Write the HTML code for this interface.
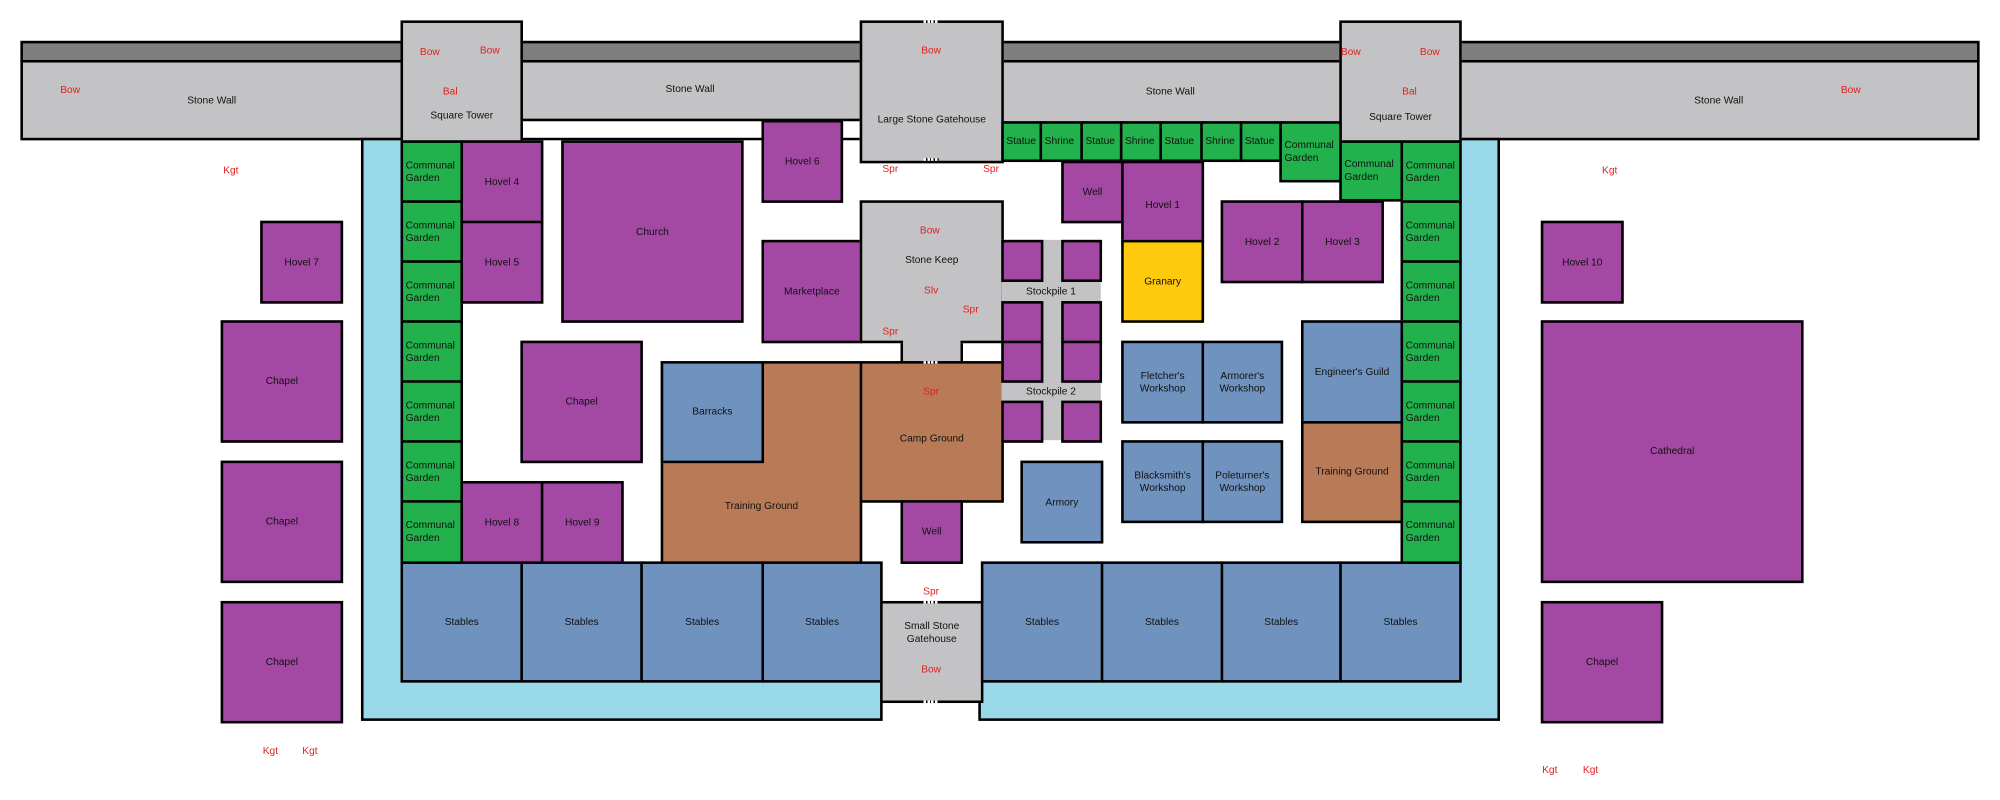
<!DOCTYPE html>
<html><head><meta charset="utf-8"><style>
html,body{margin:0;padding:0;background:#fff;width:2000px;height:800px;overflow:hidden}
#w{position:absolute;left:0;top:0;width:1568px;height:627px;transform:scale(1.27551,1.27592);transform-origin:0 0;font-family:"Liberation Sans",sans-serif}
.b{position:absolute;box-sizing:border-box;border:2px solid #000;display:flex;align-items:center;justify-content:center;text-align:center;font-size:8px;line-height:10px;color:#111}
.g{background:#c3c3c5}.d{background:#7f7f7f}.p{background:#a349a4}.gr{background:#22b14c;justify-content:flex-start;padding-left:2px;text-align:left}.bl{background:#7092be}.br{background:#b97a57}.y{background:#ffc90e}.wa{background:#99d9ea}
.r{position:absolute;color:#e02020;font-size:8px;line-height:8px;transform:translateX(-50%)}
.n{border:none}
.dt{position:absolute;height:2px;width:12px;background:repeating-linear-gradient(90deg,#fff 0 2px,#000 2px 3px)}
</style></head><body><div id="w">
<div class="b d" style="left:16px;top:32px;width:1536px;height:17px"></div>
<div class="b g" style="left:16px;top:47px;width:300px;height:63px">Stone Wall</div>
<div class="b g" style="left:406px;top:47px;width:270px;height:48px;align-items:flex-start;padding-top:16px">Stone Wall</div>
<div class="b g" style="left:783px;top:47px;width:269px;height:50px;align-items:flex-start;padding-top:18px">Stone Wall</div>
<div class="b g" style="left:1143px;top:47px;width:409px;height:63px">Stone Wall</div>
<div class="b wa" style="left:283px;top:108px;width:409px;height:457px"></div>
<div class="b wa" style="left:767px;top:108px;width:409px;height:457px"></div>
<div style="position:absolute;left:314px;top:110px;width:831px;height:423px;background:#fff"></div>
<div class="b g" style="left:314px;top:16px;width:96px;height:96px;align-items:flex-start;padding-top:68px">Square Tower</div>
<div class="b g" style="left:674px;top:16px;width:113px;height:112px;align-items:flex-start;padding-top:71px">Large Stone Gatehouse</div>
<div class="dt" style="left:724px;top:16px"></div><div class="dt" style="left:724px;top:124px"></div>
<div class="b g" style="left:1050px;top:16px;width:96px;height:96px;align-items:flex-start;padding-top:69px">Square Tower</div>
<div class="b gr" style="left:785px;top:95px;width:32px;height:32px">Statue</div>
<div class="b gr" style="left:815px;top:95px;width:34px;height:32px">Shrine</div>
<div class="b gr" style="left:847px;top:95px;width:33px;height:32px">Statue</div>
<div class="b gr" style="left:878px;top:95px;width:33px;height:32px">Shrine</div>
<div class="b gr" style="left:909px;top:95px;width:34px;height:32px">Statue</div>
<div class="b gr" style="left:941px;top:95px;width:33px;height:32px">Shrine</div>
<div class="b gr" style="left:972px;top:95px;width:33px;height:32px">Statue</div>
<div class="b gr" style="left:1003px;top:95px;width:49px;height:48px">Communal Garden</div>
<div class="b gr" style="left:1050px;top:110px;width:50px;height:48px">Communal Garden</div>
<div class="b gr" style="left:314px;top:110px;width:49px;height:49px">Communal Garden</div>
<div class="b gr" style="left:314px;top:157px;width:49px;height:49px">Communal Garden</div>
<div class="b gr" style="left:314px;top:204px;width:49px;height:49px">Communal Garden</div>
<div class="b gr" style="left:314px;top:251px;width:49px;height:49px">Communal Garden</div>
<div class="b gr" style="left:314px;top:298px;width:49px;height:49px">Communal Garden</div>
<div class="b gr" style="left:314px;top:345px;width:49px;height:49px">Communal Garden</div>
<div class="b gr" style="left:314px;top:392px;width:49px;height:50px">Communal Garden</div>
<div class="b gr" style="left:1098px;top:110px;width:48px;height:49px">Communal Garden</div>
<div class="b gr" style="left:1098px;top:157px;width:48px;height:49px">Communal Garden</div>
<div class="b gr" style="left:1098px;top:204px;width:48px;height:49px">Communal Garden</div>
<div class="b gr" style="left:1098px;top:251px;width:48px;height:49px">Communal Garden</div>
<div class="b gr" style="left:1098px;top:298px;width:48px;height:49px">Communal Garden</div>
<div class="b gr" style="left:1098px;top:345px;width:48px;height:49px">Communal Garden</div>
<div class="b gr" style="left:1098px;top:392px;width:48px;height:50px">Communal Garden</div>
<div class="b p" style="left:361px;top:110px;width:65px;height:65px">Hovel 4</div>
<div class="b p" style="left:361px;top:173px;width:65px;height:65px">Hovel 5</div>
<div class="b p" style="left:440px;top:110px;width:143px;height:143px">Church</div>
<div class="b p" style="left:597px;top:94px;width:64px;height:65px">Hovel 6</div>
<div class="b p" style="left:597px;top:188px;width:79px;height:81px">Marketplace</div>
<div class="b g" style="left:706px;top:265px;width:49px;height:20px;border-top:none"></div>
<div class="b g" style="left:674px;top:157px;width:113px;height:112px;align-items:flex-start;padding-top:40px">Stone Keep</div>
<div class="b g n" style="left:708px;top:262px;width:45px;height:20px"></div>
<div class="b p" style="left:408px;top:267px;width:96px;height:96px">Chapel</div>
<div class="b br" style="left:518px;top:283px;width:158px;height:159px;align-items:flex-end;padding-bottom:38px">Training Ground</div>
<div class="b bl" style="left:518px;top:283px;width:81px;height:80px">Barracks</div>
<div class="b br" style="left:674px;top:283px;width:113px;height:111px;padding-top:10px">Camp Ground</div>
<div class="dt" style="left:724px;top:283px"></div>
<div class="b p" style="left:706px;top:392px;width:49px;height:50px">Well</div>
<div class="b g n" style="left:785px;top:188px;width:78px;height:157px"></div>
<div class="b p" style="left:785px;top:188px;width:33px;height:33px"></div>
<div class="b p" style="left:832px;top:188px;width:32px;height:33px"></div>
<div class="b p" style="left:785px;top:236px;width:33px;height:33px"></div>
<div class="b p" style="left:832px;top:236px;width:32px;height:33px"></div>
<div class="b p" style="left:785px;top:267px;width:33px;height:33px"></div>
<div class="b p" style="left:832px;top:267px;width:32px;height:33px"></div>
<div class="b p" style="left:785px;top:314px;width:33px;height:33px"></div>
<div class="b p" style="left:832px;top:314px;width:32px;height:33px"></div>
<div class="b n" style="left:785px;top:221px;width:78px;height:15px">Stockpile 1</div>
<div class="b n" style="left:785px;top:299px;width:78px;height:15px">Stockpile 2</div>
<div class="b p" style="left:832px;top:126px;width:49px;height:49px">Well</div>
<div class="b p" style="left:879px;top:126px;width:65px;height:64px;align-items:flex-start;padding-top:28px">Hovel 1</div>
<div class="b y" style="left:879px;top:188px;width:65px;height:65px">Granary</div>
<div class="b p" style="left:957px;top:157px;width:65px;height:65px">Hovel 2</div>
<div class="b p" style="left:1020px;top:157px;width:65px;height:65px">Hovel 3</div>
<div class="b bl" style="left:879px;top:267px;width:65px;height:65px">Fletcher's Workshop</div>
<div class="b bl" style="left:942px;top:267px;width:64px;height:65px">Armorer's Workshop</div>
<div class="b bl" style="left:879px;top:345px;width:65px;height:65px">Blacksmith's Workshop</div>
<div class="b bl" style="left:942px;top:345px;width:64px;height:65px">Poleturner's Workshop</div>
<div class="b bl" style="left:800px;top:361px;width:65px;height:65px">Armory</div>
<div class="b bl" style="left:1020px;top:251px;width:80px;height:81px">Engineer's Guild</div>
<div class="b br" style="left:1020px;top:330px;width:80px;height:80px">Training Ground</div>
<div class="b p" style="left:361px;top:377px;width:65px;height:65px">Hovel 8</div>
<div class="b p" style="left:424px;top:377px;width:65px;height:65px">Hovel 9</div>
<div class="b bl" style="left:314px;top:440px;width:96px;height:95px">Stables</div>
<div class="b bl" style="left:408px;top:440px;width:96px;height:95px">Stables</div>
<div class="b bl" style="left:502px;top:440px;width:97px;height:95px">Stables</div>
<div class="b bl" style="left:597px;top:440px;width:95px;height:95px">Stables</div>
<div class="b bl" style="left:769px;top:440px;width:96px;height:95px">Stables</div>
<div class="b bl" style="left:863px;top:440px;width:96px;height:95px">Stables</div>
<div class="b bl" style="left:957px;top:440px;width:95px;height:95px">Stables</div>
<div class="b bl" style="left:1050px;top:440px;width:96px;height:95px">Stables</div>
<div class="b g" style="left:690px;top:471px;width:81px;height:80px;align-items:flex-start;padding-top:13px">Small Stone Gatehouse</div>
<div class="dt" style="left:724px;top:471px"></div><div class="dt" style="left:724px;top:549px"></div>
<div class="b p" style="left:204px;top:173px;width:65px;height:65px">Hovel 7</div>
<div class="b p" style="left:173px;top:251px;width:96px;height:96px">Chapel</div>
<div class="b p" style="left:173px;top:361px;width:96px;height:96px">Chapel</div>
<div class="b p" style="left:173px;top:471px;width:96px;height:96px">Chapel</div>
<div class="b p" style="left:1208px;top:173px;width:65px;height:65px">Hovel 10</div>
<div class="b p" style="left:1208px;top:251px;width:206px;height:206px">Cathedral</div>
<div class="b p" style="left:1208px;top:471px;width:96px;height:96px">Chapel</div>
<div class="r" style="left:337px;top:37px">Bow</div><div class="r" style="left:384px;top:36px">Bow</div>
<div class="r" style="left:353px;top:68px">Bal</div><div class="r" style="left:55px;top:67px">Bow</div>
<div class="r" style="left:730px;top:36px">Bow</div>
<div class="r" style="left:1059px;top:37px">Bow</div><div class="r" style="left:1121px;top:37px">Bow</div>
<div class="r" style="left:1105px;top:68px">Bal</div><div class="r" style="left:1451px;top:67px">Bow</div>
<div class="r" style="left:181px;top:130px">Kgt</div><div class="r" style="left:1262px;top:130px">Kgt</div>
<div class="r" style="left:698px;top:129px">Spr</div><div class="r" style="left:777px;top:129px">Spr</div>
<div class="r" style="left:729px;top:177px">Bow</div><div class="r" style="left:730px;top:224px">Slv</div>
<div class="r" style="left:761px;top:239px">Spr</div><div class="r" style="left:698px;top:256px">Spr</div>
<div class="r" style="left:730px;top:303px">Spr</div>
<div class="r" style="left:730px;top:460px">Spr</div><div class="r" style="left:730px;top:521px">Bow</div>
<div class="r" style="left:212px;top:585px">Kgt</div><div class="r" style="left:243px;top:585px">Kgt</div>
<div class="r" style="left:1215px;top:600px">Kgt</div><div class="r" style="left:1247px;top:600px">Kgt</div>
</div></body></html>
